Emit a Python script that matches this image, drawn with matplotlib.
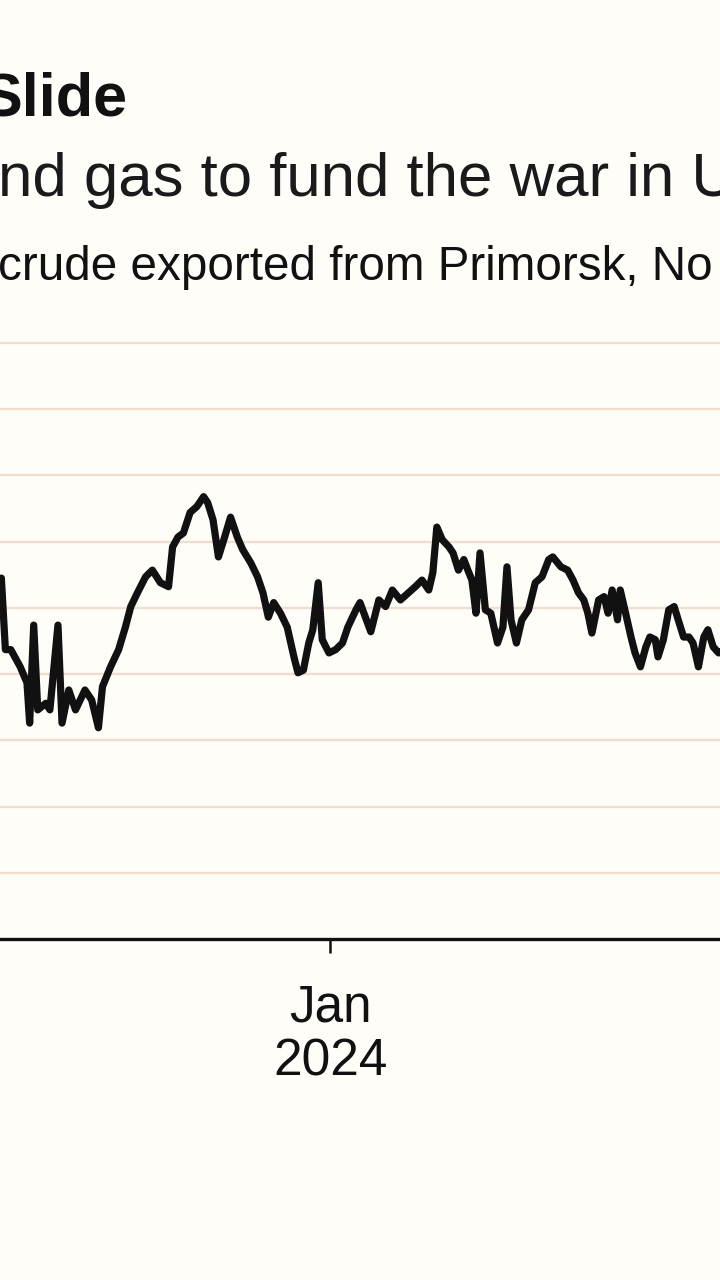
import matplotlib
matplotlib.use("Agg")
import matplotlib.pyplot as plt
import pandas as pd

# ---- data (Urals crude price, $/bbl) ----
dates = [
    "2023-04-28", "2023-05-02", "2023-05-05", "2023-05-09", "2023-05-16", "2023-05-21",
    "2023-05-23", "2023-05-26", "2023-05-29", "2023-06-04", "2023-06-07", "2023-06-13",
    "2023-06-16", "2023-06-21", "2023-06-26", "2023-07-03", "2023-07-08", "2023-07-13",
    "2023-07-16", "2023-07-22", "2023-07-28", "2023-08-02", "2023-08-06", "2023-08-11",
    "2023-08-17", "2023-08-22", "2023-08-28", "2023-09-03", "2023-09-06", "2023-09-10",
    "2023-09-14", "2023-09-19", "2023-09-24", "2023-09-29", "2023-10-02", "2023-10-06",
    "2023-10-10", "2023-10-14", "2023-10-19", "2023-10-24", "2023-10-28", "2023-11-03",
    "2023-11-08", "2023-11-12", "2023-11-16", "2023-11-20", "2023-11-25", "2023-11-30",
    "2023-12-05", "2023-12-08", "2023-12-12", "2023-12-16", "2023-12-19", "2023-12-23",
    "2023-12-26", "2023-12-31", "2024-01-05", "2024-01-10", "2024-01-14", "2024-01-20",
    "2024-01-23", "2024-01-31", "2024-02-06", "2024-02-11", "2024-02-16", "2024-02-22",
    "2024-02-28", "2024-03-04", "2024-03-09", "2024-03-14", "2024-03-17", "2024-03-20",
    "2024-03-24", "2024-03-29", "2024-04-01", "2024-04-05", "2024-04-09", "2024-04-12",
    "2024-04-15", "2024-04-18", "2024-04-21", "2024-04-25", "2024-04-29", "2024-05-04",
    "2024-05-08", "2024-05-11", "2024-05-14", "2024-05-18", "2024-05-22", "2024-05-27",
    "2024-06-01", "2024-06-06", "2024-06-11", "2024-06-14", "2024-06-20", "2024-06-25",
    "2024-06-29", "2024-07-03", "2024-07-07", "2024-07-10", "2024-07-13", "2024-07-18",
    "2024-07-22", "2024-07-25", "2024-07-28", "2024-08-01", "2024-08-03", "2024-08-07",
    "2024-08-11", "2024-08-14", "2024-08-18", "2024-08-22", "2024-08-25", "2024-08-29",
    "2024-08-31", "2024-09-04", "2024-09-08", "2024-09-12", "2024-09-15", "2024-09-19",
    "2024-09-23", "2024-09-26", "2024-09-30", "2024-10-04", "2024-10-07", "2024-10-11",
    "2024-10-15", "2024-10-20",
]
prices = [
    71.2, 74.5, 63.7, 63.7, 61.1, 58.7,
    52.6, 67.4, 54.6, 55.6, 54.6, 67.4,
    52.6, 57.6, 54.6, 57.6, 56.1, 51.9,
    58.1, 61.1, 63.7, 67.1, 70.2, 72.3,
    74.7, 75.7, 73.8, 73.2, 79.2, 80.7,
    81.3, 84.4, 85.3, 86.8, 85.9, 83.3,
    77.7, 80.3, 83.7, 80.7, 78.8, 76.8,
    74.7, 72.3, 68.6, 70.8, 69.2, 67.1,
    62.6, 60.2, 60.6, 64.7, 66.7, 73.8,
    65.2, 63.2, 63.7, 64.7, 67.1, 69.7,
    70.8, 66.4, 71.2, 70.2, 72.7, 71.2,
    72.3, 73.2, 74.2, 72.7, 75.3, 82.2,
    80.3, 79.2, 78.3, 75.7, 77.3, 75.7,
    74.2, 69.2, 78.3, 69.7, 69.2, 64.7,
    67.1, 76.2, 68.2, 64.7, 68.2, 69.7,
    73.8, 74.7, 77.3, 77.7, 76.2, 75.7,
    74.2, 72.3, 71.2, 69.2, 66.2, 71.2,
    71.7, 69.2, 72.7, 68.2, 72.7, 69.2,
    65.6, 63.2, 61.1, 64.1, 65.6, 65.2,
    62.6, 65.2, 69.7, 70.2, 68.2, 65.6,
    65.6, 64.7, 61.1, 65.6, 66.7, 64.1,
    63.2, 63.7,
]
grid_values = [30, 40, 50, 60, 70, 80, 90, 100, 110]
tick_dates = ["2024-01-01"]
tick_labels = ["Jan\n2024"]

title_text = "Slide"
subtitle_text = "nd gas to fund the war in U"
note_text = "crude exported from Primorsk, No"

# ---- figure ----
BG = "#fffdf7"
GRID = "#f2dccb"
W, H = 720, 1280
fig = plt.figure(figsize=(W / 100, H / 100), dpi=100, facecolor=BG)

y_bottom_px, y_top_px = 939, 330
ax = fig.add_axes([0, 1 - y_bottom_px / H, 1, (y_bottom_px - y_top_px) / H])
ax.set_facecolor(BG)

x = pd.to_datetime(dates)
ax.plot(x, prices, color="#111111", lw=5.2, solid_joinstyle="round",
        solid_capstyle="round", zorder=3)

ax.set_xlim(pd.Timestamp("2023-05-01"), pd.Timestamp("2024-10-16"))
ax.set_ylim(20, 110 + 10 * 13 / 66.2)

for g in grid_values:
    ax.axhline(g, color=GRID, lw=1.6, zorder=1)

for s in ["left", "right", "top"]:
    ax.spines[s].set_visible(False)
ax.spines["bottom"].set_color("#111111")
ax.spines["bottom"].set_linewidth(2.4)
ax.spines["bottom"].set_zorder(4)

ax.set_yticks([])
ax.set_xticks(pd.to_datetime(tick_dates))
ax.set_xticklabels(tick_labels, fontsize=37, family="Liberation Sans",
                   color="#111111", linespacing=1.12)
ax.tick_params(axis="x", direction="out", length=10, width=1.8,
               color="#111111", pad=22)

# ---- texts ----
fig.text(-19 / W, 1 - 115 / H, title_text, fontsize=44, fontweight="bold",
         family="Liberation Sans", color="#111111", ha="left", va="baseline")
fig.text(-2 / W, 1 - 196 / H, subtitle_text, fontsize=44.5,
         family="Liberation Sans", color="#1a1a1a", ha="left", va="baseline")
fig.text(-2 / W, 1 - 280 / H, note_text, fontsize=34.3,
         family="Liberation Sans", color="#111111", ha="left", va="baseline")

fig.savefig("out.png", dpi=100, facecolor=BG)
